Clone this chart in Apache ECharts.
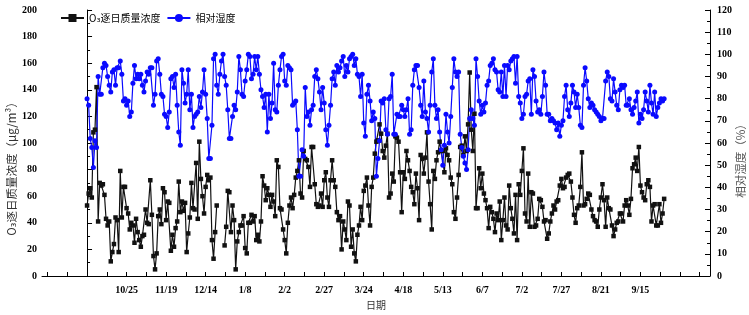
<!DOCTYPE html>
<html>
<head><meta charset="utf-8"></head>
<script type="text/javascript" src="https://cdn.jsdelivr.net/npm/echarts@6/dist/echarts.min.js"></script>
<body style="margin:0;background:#fff;">
    <div id="main" style="width:749px;height:315px;"></div>
</body>

<script type="text/javascript">
// 日期刻度：第0天 = 9/30，每25天一个标签
var tickLabels = ['10/25','11/19','12/14','1/8','2/2','2/27','3/24','4/18','5/13','6/7','7/2','7/27','8/21','9/15']

// O3 逐日质量浓度 (μg/m3)，null 为缺测
var o3 = [
    53,62,66,59,108,110,142,41,70,68,
    69,61,43,38,41,11,18,24,44,42,
    18,79,44,67,67,51,47,35,40,38,
    25,43,33,27,22,30,31,50,40,39,
    72,46,15,5,17,45,50,39,66,63,
    42,56,55,19,31,22,36,41,71,48,
    56,49,55,18,32,44,70,51,50,85,
    43,101,73,60,47,67,76,72,74,27,
    13,33,53,null,null,null,null,
    23,37,64,63,33,53,42,5,26,33,
    38,38,45,21,17,40,40,46,41,45,
    27,31,26,41,75,68,57,66,61,52,
    61,56,45,87,82,51,50,35,27,
    17,40,53,59,51,61,74,79,87,62,
    59,94,88,87,82,67,97,97,69,54,
    52,53,62,52,72,78,59,52,72,87,
    72,67,48,42,45,20,41,35,27,56,
    53,22,35,17,11,31,38,52,42,64,
    68,74,53,38,67,74,92,101,102,114,
    107,94,
    89,98,107,59,62,77,71,105,104,101,
    78,48,78,73,94,87,79,67,63,54,
    77,66,42,91,88,77,89,108,71,54,
    35,79,73,87,93,101,94,94,78,96,
    91,87,74,69,48,43,59,76,97,98,
    91,105,94,114,153,
    110,94,122,51,51,81,66,77,62,57,
    51,36,52,48,43,33,47,42,56,27,
    42,59,38,35,68,51,43,32,61,27,
    69,61,79,96,
    47,41,77,37,63,62,37,38,43,58,
    57,52,41,42,28,
    32,41,47,53,50,56,57,68,73,66,
    67,74,76,
    77,71,59,46,40,51,53,67,93,
    53,54,58,62,61,50,45,42,41,37,
    50,59,69,57,37,59,51,50,38,30,
    35,40,41,47,47,41,53,57,53,46,
    58,81,84,89,79,97,68,63,59,57,
    69,72,67,41,53,54,38,38,54,40,
    47,58
]

// 相对湿度 (%)
var rh = [
    80,77,62,58,49,61,58,90,82,82,
    94,96,95,90,86,83,92,93,86,94,
    94,97,91,79,80,77,79,72,74,87,
    95,89,91,89,91,86,83,88,92,91,
    94,94,77,82,97,98,91,
    82,81,73,72,67,74,89,90,85,91,
    77,65,59,93,87,78,82,93,75,82,
    67,72,73,74,81,76,83,93,82,71,
    53,53,68,98,100,86,82,91,97,100,
    90,86,75,62,62,
    72,77,75,83,99,93,82,81,88,93,
    100,99,89,91,99,93,99,91,84,81,
    76,82,65,82,71,78,96,75,74,86,
    93,99,100,
    88,86,95,94,93,77,78,79,66,45,
    45,57,54,85,72,74,68,75,77,90,
    93,89,83,75,85,78,66,59,68,77,
    89,92,86,95,92,94,97,99,90,95,
    92,98,99,100,95,98,91,90,81,91,
    69,63,82,86,79,70,74,71,45,53,
    61,79,78,
    80,66,64,80,81,91,64,64,73,72,
    72,77,75,72,75,80,64,66,86,93,
    95,95,85,77,72,88,74,71,65,77,
    92,98,
    77,71,75,65,57,50,59,73,65,60,
    72,85,98,
    92,90,92,64,58,54,51,48,
    57,71,75,71,68,98,
    90,79,73,77,74,78,86,88,95,96,
    98,93,92,84,83,92,81,95,81,95,
    93,97,98,99,
    87,99,81,78,71,73,81,82,88,89,
    73,93,90,79,74,75,73,81,92,86,
    73,73,70,71,70,69,66,69,63,68,
    70,
    81,86,75,72,
    78,86,83,76,82,76,68,67,86,94,88,
    80,76,78,77,75,74,73,72,70,71,71,88,
    92,90,80,79,89,83,77,75,84,86,
    85,86,77,77,80,75,73,76,79,83,
    69,73,71,75,83,79,74,86,78,73,
    83,72,76,78,80,79,80
]

var o3Data = o3.map(function(v, i){ return [i, v] })
var rhData = rh.map(function(v, i){ return [i, v] })

var labelDays = tickLabels.map(function(t, i){ return 25 + i * 25 })
var tickDays = []
for (var d = -25; d <= 390; d += 12.5) tickDays.push(d)

var tickFont = {fontFamily: 'Liberation Serif', fontWeight: 'bold', fontSize: 10, color: '#000'}
var cjk = '"Noto Sans CJK SC", "DejaVu Sans", sans-serif'

var myChart = echarts.init(document.getElementById('main'))
myChart.setOption({
    animation: false,
    grid: {left: 42, right: 39, top: 10, bottom: 37},
    legend: {
        left: 55, top: 8,
        itemWidth: 23, itemHeight: 10, itemGap: 6,
        textStyle: {fontFamily: cjk, fontSize: 10, color: '#000'},
        data: ['O₃逐日质量浓度', '相对湿度']
    },
    xAxis: {
        type: 'value', min: -28.5, max: 394,
        name: '日期', nameLocation: 'middle', nameGap: 24,
        nameTextStyle: {fontFamily: cjk, fontSize: 10, color: '#333'},
        axisLine: {lineStyle: {color: '#000', width: 1}},
        axisTick: {inside: true, length: 4, customValues: tickDays, lineStyle: {color: '#000'}},
        axisLabel: {
            customValues: labelDays, margin: 9,
            formatter: function(v){ return tickLabels[Math.round((v - 25) / 25)] || '' },
            fontFamily: tickFont.fontFamily, fontWeight: 'bold', fontSize: 10, color: '#000'
        },
        splitLine: {show: false}
    },
    yAxis: [
        {
            type: 'value', min: 0, max: 200, interval: 20,
            axisLine: {show: true, lineStyle: {color: '#000'}},
            axisTick: {inside: true, length: 5, lineStyle: {color: '#000'}},
            minorTick: {show: true, splitNumber: 2, length: 3, lineStyle: {color: '#000'}},
            axisLabel: Object.assign({margin: 5}, tickFont),
            splitLine: {show: false}
        },
        {
            type: 'value', min: 0, max: 120, interval: 10, position: 'right',
            axisLine: {show: true, lineStyle: {color: '#000'}},
            axisTick: {inside: true, length: 5, lineStyle: {color: '#000'}},
            minorTick: {show: true, splitNumber: 2, length: 3, lineStyle: {color: '#000'}},
            axisLabel: Object.assign({margin: 7}, tickFont),
            splitLine: {show: false}
        }
    ],
    graphic: [
        {
            type: 'text', x: 12, y: 166, rotation: Math.PI / 2,
            style: {text: 'O₃逐日质量浓度（μg/m³）', fontFamily: cjk, fontSize: 11.5, fill: '#333',
                align: 'center', verticalAlign: 'middle'}
        },
        {
            type: 'text', x: 741, y: 158, rotation: Math.PI / 2,
            style: {text: '相对湿度（%）', fontFamily: cjk, fontSize: 11.5, fill: '#555',
                align: 'center', verticalAlign: 'middle'}
        }
    ],
    series: [
        {
            name: 'O₃逐日质量浓度', type: 'line', yAxisIndex: 0,
            data: o3Data,
            symbol: 'rect', symbolSize: 4.5, showAllSymbol: true,
            lineStyle: {color: '#111', width: 1.2},
            itemStyle: {color: '#111'}
        },
        {
            name: '相对湿度', type: 'line', yAxisIndex: 1,
            data: rhData,
            symbol: 'circle', symbolSize: 5, showAllSymbol: true,
            lineStyle: {color: '#0a0aff', width: 1.2},
            itemStyle: {color: '#0a0aff'}
        }
    ]
})
</script>
</html>
